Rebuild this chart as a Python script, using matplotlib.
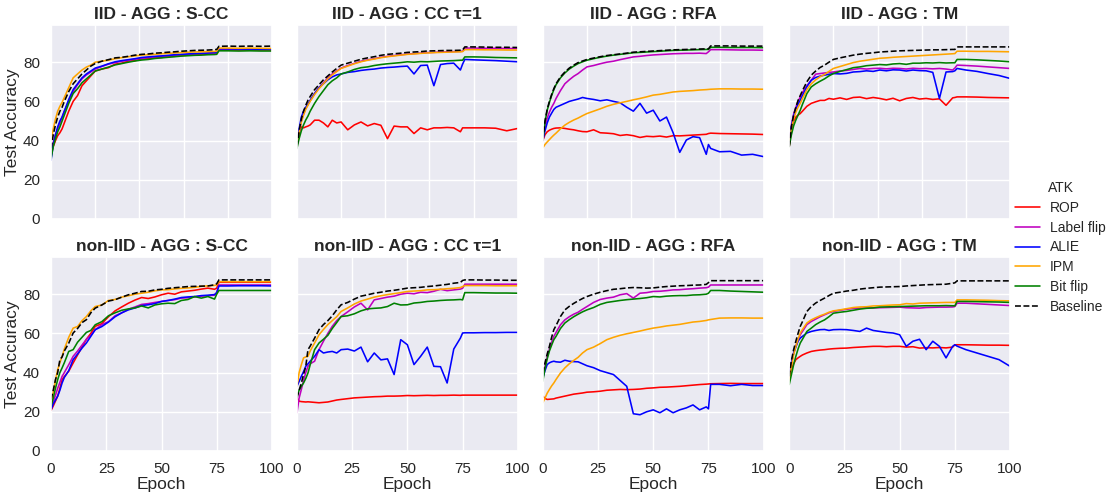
import matplotlib
matplotlib.use("Agg")
import matplotlib.pyplot as plt
import seaborn as sns

epochs = [0, 1, 2, 3, 4, 5, 6,
          8, 10, 12, 14, 16, 18, 20,
          23, 26, 29, 32, 35, 38, 41,
          44, 47, 50, 53, 56, 59, 62,
          65, 68, 71, 74, 75, 76,
          80, 85, 90, 95, 100]

attacks = ["ROP", "Label flip", "ALIE", "IPM", "Bit flip", "Baseline"]
colors = {"ROP": "red", "Label flip": (0.75, 0, 0.75), "ALIE": "blue", "IPM": "orange",
          "Bit flip": "green", "Baseline": "black"}

iid_scc = {
    "ROP": [33, 37, 40, 42.5, 44, 46, 49,
            55, 60, 63, 68, 70.5, 73, 75.5,
            76.5, 77.2, 79, 79.5, 80.6, 80.8, 81.6,
            81.8, 82.3, 82.4, 82.9, 83, 83.4, 83.6,
            83.7, 84, 84.1, 84.3, 84.5, 86.3,
            86.3, 86.2, 86.3, 86.2, 86.2],
    "Label flip": [32, 39, 43, 46, 49, 52, 55,
                   60, 65, 68.5, 71.5, 73.5, 75, 76.5,
                   77.8, 79, 79.8, 80.5, 81, 81.5, 82,
                   82.3, 82.7, 83, 83.2, 83.5, 83.8, 84,
                   84.2, 84.3, 84.5, 84.6, 84.8, 86.5,
                   86.5, 86.4, 86.5, 86.4, 86.4],
    "ALIE": [30, 38, 43, 47, 50, 52, 55,
             61, 66, 69, 72, 74, 75.5, 77,
             78, 79.2, 80.2, 80.8, 81.3, 81.8, 82.4,
             82.7, 83, 83.2, 83.5, 83.8, 84, 84.2,
             84.4, 84.5, 84.7, 84.9, 85, 86.8,
             86.8, 86.7, 86.7, 86.6, 86.6],
    "IPM": [40, 46, 51, 55, 57.5, 59.5, 62,
            67, 72, 74, 76, 77.5, 78.5, 80,
            80.5, 81, 81.8, 82.3, 82.8, 83.2, 83.6,
            83.8, 84, 84.3, 84.5, 84.7, 84.9, 85.1,
            85.2, 85.3, 85.4, 85.5, 85.6, 87.2,
            87.2, 87.1, 87.2, 87.1, 87],
    "Bit flip": [31, 37, 41, 44.5, 47, 50, 53,
                 59, 64, 66.5, 69.5, 71.5, 73.5, 75.5,
                 76.5, 77.5, 78.6, 79.3, 80, 80.6, 81.1,
                 81.4, 81.9, 82.2, 82.5, 82.8, 83.1, 83.3,
                 83.5, 83.6, 83.8, 83.9, 84, 85.8,
                 85.8, 85.7, 85.8, 85.7, 85.7],
    "Baseline": [36, 43, 48, 52, 55, 57, 60,
                 65, 69, 71.5, 74, 76, 78, 79.3,
                 80.5, 81.3, 82.2, 82.5, 83, 83.6, 84,
                 84.2, 84.6, 84.8, 85.1, 85.3, 85.6, 85.8,
                 86, 86.1, 86.2, 86.4, 86.5, 88.1,
                 88.2, 88.1, 88.2, 88.1, 88.2],
}

iid_cc = {
    "ROP": [38, 44, 47, 46.5, 47, 47.4, 48,
            50.4, 50.4, 49, 47, 50.4, 49, 49.5,
            45.5, 48, 49.5, 47.5, 48.7, 47.8, 41,
            47.4, 47, 47, 43.6, 46.5, 45.5, 46.5,
            46.5, 46.7, 46.5, 44.5, 46.5, 46.5,
            46.5, 46.5, 46.3, 45, 46.2],
    "Label flip": [37, 44, 50, 53.5, 56.5, 58.5, 60.5,
                   64, 67, 69.5, 72, 74, 75.5, 77,
                   78.3, 79.4, 80.5, 81.2, 81.8, 82.5, 83,
                   83.4, 83.8, 84.1, 84.4, 84.6, 84.9, 85,
                   85.2, 85.3, 85.4, 85.5, 85.6, 87.2,
                   87.2, 87.1, 87.1, 87, 87],
    "ALIE": [38, 46, 52, 55, 57, 58.5, 60.5,
             64, 67, 69, 71, 72.5, 73.5, 74,
             74.8, 75.2, 75.8, 76.2, 76.5, 77, 77.3,
             77.5, 77.8, 78, 74, 78.3, 78.5, 68,
             78.8, 79.3, 79.5, 76, 79, 81.4,
             81.2, 81, 80.8, 80.5, 80.2],
    "IPM": [38, 44, 49.5, 53, 56, 58, 60,
            63.5, 66.5, 69, 71.5, 73.5, 75.2, 76.8,
            78, 79.2, 80.2, 81, 81.6, 82.3, 82.8,
            83.2, 83.6, 84, 84.2, 84.5, 84.7, 84.9,
            85, 85.1, 85.2, 85.3, 85.4, 86.4,
            86.4, 86.3, 86.3, 86.2, 86.2],
    "Bit flip": [36, 41, 45, 48, 50.5, 52.5, 55,
                 59, 62.5, 65.5, 68.5, 70.5, 72, 74,
                 75, 76.3, 77.2, 77.6, 78.3, 78.8, 79.2,
                 79.5, 79.8, 80.2, 80, 80.3, 80.2, 80.4,
                 80.6, 80.7, 80.8, 81, 81, 82.7,
                 82.7, 82.6, 82.4, 82.3, 82.2],
    "Baseline": [37, 45, 51, 55, 58, 60.6, 62.5,
                 66, 68.5, 71, 73, 75, 76.8, 78.5,
                 79.5, 80.5, 81.5, 82.2, 82.8, 83.5, 84,
                 84.3, 84.6, 85, 85.2, 85.4, 85.7, 85.8,
                 85.9, 86, 86, 86.1, 86.2, 87.8,
                 87.8, 87.7, 87.6, 87.6, 87.5],
}

iid_rfa = {
    "ROP": [40, 43, 44.5, 45.3, 45.8, 46.2, 46.4,
            46.5, 46.2, 45.8, 45.5, 45, 44.6, 44.5,
            45.5, 44, 43.8, 43.5, 42.6, 43, 42.5,
            41.6, 42.2, 42, 42.3, 41.8, 42.5, 42.4,
            42.6, 42.8, 43, 43.2, 43.6, 43.8,
            43.6, 43.5, 43.4, 43.3, 43.1],
    "Label flip": [40, 47, 51.5, 54.5, 57, 59, 61.5,
                   65.5, 69, 71, 72.8, 74.2, 76, 77.6,
                   78.3, 79.2, 80, 80.5, 81.3, 82, 82.7,
                   83, 83.4, 83.7, 83.9, 84.1, 84.3, 84.4,
                   84.5, 84.5, 84.6, 84.4, 85.3, 86.4,
                   86.4, 86.3, 86.2, 86.2, 86.1],
    "ALIE": [40, 45, 49, 52, 54, 55.9, 57,
             58, 59, 60, 60.6, 61.2, 62, 61.5,
             61, 60.3, 60.8, 60, 59.3, 57, 55,
             59, 54, 55.5, 50, 52, 44, 34,
             40.3, 42, 41.5, 33, 38, 36,
             34.3, 34.5, 32.6, 33, 31.8],
    "IPM": [36.3, 38, 39.3, 40.5, 41.7, 42.8, 43.8,
            46, 47.9, 49.3, 50.5, 51.5, 52.7, 53.8,
            55, 56.2, 57.5, 58.5, 59.3, 60, 60.8,
            61.5, 62.3, 63.2, 63.6, 64.2, 64.8, 65.1,
            65.3, 65.5, 65.8, 66, 66.1, 66.2,
            66.4, 66.4, 66.3, 66.3, 66.2],
    "Bit flip": [40, 49.5, 55.5, 59.5, 63, 66, 68.5,
                 72, 74.5, 76.5, 78, 79.3, 80.2, 81,
                 81.8, 82.5, 83.1, 83.6, 84, 84.4, 84.8,
                 85, 85.2, 85.4, 85.6, 85.8, 86, 86.1,
                 86.2, 86.3, 86.4, 86.5, 86.5, 87.6,
                 87.6, 87.5, 87.5, 87.5, 87.4],
    "Baseline": [40, 50, 56, 60, 63.5, 66.5, 69,
                 72.5, 75, 77, 78.5, 79.8, 80.6, 81.4,
                 82.1, 82.8, 83.4, 83.8, 84.2, 84.6, 85.1,
                 85.3, 85.5, 85.7, 85.9, 86.1, 86.3, 86.4,
                 86.5, 86.6, 86.7, 86.8, 86.8, 88.3,
                 88.3, 88.3, 88.2, 88.2, 88.2],
}

iid_tm = {
    "ROP": [37, 46, 50, 52, 53, 53.8, 55,
            57.5, 59, 59.8, 60.5, 60.5, 61.5, 61.1,
            61.8, 61, 62, 62.2, 61.4, 62, 61.5,
            60.8, 61.6, 60.3, 61.5, 62, 61.2, 61.5,
            61, 61.3, 58, 61.8, 62, 62.3,
            62.3, 62.2, 62, 61.9, 61.8],
    "Label flip": [38, 48, 53.5, 57, 60, 62.3, 64.5,
                   68, 70.8, 73.9, 74.2, 74.5, 74.8, 75,
                   75.5, 75.8, 76.3, 76.8, 76.5, 76.8, 76.9,
                   76.6, 76.9, 76.8, 76.5, 76.9, 76.7, 76.8,
                   76.6, 76.8, 76.5, 76, 77, 78.5,
                   78.3, 78, 77.6, 77.2, 76.8],
    "ALIE": [38, 47, 52.5, 56, 58.5, 60.6, 63,
             67.5, 70.8, 72.2, 72.9, 73.4, 73.8, 74.2,
             74, 74.3, 75, 75.2, 75.6, 75.3, 76,
             75.6, 76.1, 76, 75.5, 76, 75.7, 75.6,
             74.8, 61.5, 75, 75.2, 75.6, 76.8,
             76, 75.3, 74.2, 73.2, 71.7],
    "IPM": [38, 46, 51, 54.5, 57, 59, 61.5,
            66, 69, 71, 72.6, 73.7, 75.3, 76.8,
            77.8, 78.8, 79.8, 80.5, 81, 81.5, 82,
            82.2, 82.5, 82.7, 82.9, 83.1, 83.3, 83.5,
            83.7, 83.9, 84.1, 84.3, 84.4, 85.6,
            85.6, 85.5, 85.5, 85.4, 85.3],
    "Bit flip": [37, 43, 47.5, 50.5, 53, 55.5, 58.5,
                 64, 67.4, 69, 70.3, 71.5, 73, 74.2,
                 75.3, 76.2, 77.2, 77.6, 78.2, 78.5, 78.8,
                 78.6, 79.1, 79.3, 78.9, 79.5, 79.5, 79.7,
                 79.6, 79.8, 79.6, 79.7, 79.7, 81.4,
                 81.4, 81.2, 80.9, 80.6, 80.2],
    "Baseline": [37, 47, 53, 57, 60.5, 63, 65.5,
                 70, 73.4, 75.5, 77.3, 78.5, 80, 81.4,
                 82.2, 82.9, 83.6, 84.1, 84.5, 84.8, 85.2,
                 85.4, 85.6, 85.8, 85.9, 86, 86.1, 86.2,
                 86.3, 86.3, 86.4, 86.5, 86.5, 87.8,
                 87.8, 87.8, 87.8, 87.8, 87.8],
}

noniid_scc = {
    "ROP": [20.7, 23, 25.5, 28, 32, 36.4, 38,
            40.7, 44.9, 49, 53, 57, 60, 63.6,
            65, 68.5, 71.5, 73.5, 75.4, 77, 78.3,
            77.8, 78.6, 79.7, 80.5, 80, 81.2, 81.6,
            82, 82.6, 83.1, 82.5, 83.1, 86.1,
            86.1, 86.1, 86.1, 86.1, 86.1],
    "Label flip": [21.2, 25, 28.5, 32, 35, 38.1, 40,
                   44, 48.3, 51, 54, 57, 59, 61.9,
                   64.5, 66, 69, 70.5, 72.3, 73.5, 74.8,
                   75.2, 75.8, 76.3, 76.8, 77.2, 78, 78.2,
                   78.6, 79, 79.2, 79.5, 80.8, 84.7,
                   84.7, 84.7, 84.7, 84.7, 84.7],
    "ALIE": [21.2, 24, 26, 28, 31, 34.7, 37.5,
             41, 46.6, 49.5, 52.5, 55.1, 58.5, 61.9,
             63.5, 65.8, 68.5, 70.5, 72, 73, 74.2,
             74.6, 75.2, 76.3, 76.8, 77.5, 78.3, 78.6,
             78.8, 79.3, 79.5, 79.8, 80.8, 84.2,
             84.2, 84.3, 84.3, 84.3, 84.2],
    "IPM": [24, 30, 36, 41.5, 45, 48.3, 52,
            58, 62.7, 63.5, 66.5, 68.6, 71.5, 73.7,
            74.5, 76.8, 77.3, 78.5, 79.2, 80, 80.5,
            81, 81.7, 82.2, 82.3, 82.7, 83, 83.2,
            83.5, 84, 84.2, 84.5, 84.7, 86.4,
            86.4, 86.4, 86.4, 86.4, 86.4],
    "Bit flip": [22.9, 27, 32, 36.4, 40, 42.4, 45,
                 50.8, 51.7, 55.5, 58, 60.5, 61.5, 64.4,
                 66, 69, 70.5, 71.8, 72.5, 73, 74,
                 73, 74.5, 75.1, 75.4, 75.2, 76.8, 77.3,
                 78.8, 78, 78.8, 77.5, 80, 81.9,
                 81.9, 81.9, 81.9, 81.9, 81.9],
    "Baseline": [26.3, 31, 36.4, 40, 46.6, 48, 51,
                 55, 60.2, 62.5, 65.5, 67, 70.5, 72.9,
                 74.5, 76.5, 77.2, 78.5, 79.7, 80.5, 81.4,
                 81.5, 82.2, 82.5, 83, 83.3, 83.6, 83.9,
                 84, 84.1, 84.2, 84.8, 85.3, 87.3,
                 87.3, 87.3, 87.3, 87.3, 87.3],
}

noniid_cc = {
    "ROP": [27, 25.4, 25.2, 25.1, 25, 25.1, 25,
            24.8, 24.6, 24.8, 25, 25.5, 26, 26.3,
            26.7, 27.1, 27.3, 27.5, 27.7, 27.8, 28,
            28, 28.1, 28.3, 28.2, 28.3, 28.4, 28.3,
            28.4, 28.4, 28.5, 28.4, 28.5, 28.5,
            28.5, 28.5, 28.5, 28.5, 28.5],
    "Label flip": [19.5, 27, 31.4, 36, 40, 43.2, 44.5,
                   45.8, 51.7, 56, 60, 63.6, 66.5, 68.6,
                   71, 73.5, 75.4, 72, 77.1, 77.8, 78.5,
                   79, 80, 80.5, 80.2, 81, 80.8, 81.5,
                   82.5, 81.8, 82.2, 82.6, 83, 85.1,
                   85.1, 85.1, 85.1, 85.1, 85.1],
    "ALIE": [33, 35.5, 38.1, 40.5, 43.2, 44.5, 45.8,
             48.3, 51.7, 50, 50.5, 50.8, 50, 51.7,
             52, 51, 53, 45.5, 50, 46.5, 47,
             39, 56.8, 54.2, 44.1, 48.3, 53, 43.2,
             43, 34.7, 52, 57.6, 60.2, 60.3,
             60.3, 60.4, 60.4, 60.5, 60.5],
    "IPM": [33, 40, 44, 47.5, 48, 48.3, 51,
            55.1, 59.3, 62, 64.5, 66.5, 68.5, 71.2,
            73, 75, 76.5, 77.5, 78.5, 79.2, 79.8,
            80.3, 80.8, 81.4, 81.6, 81.8, 82.2, 82.3,
            82.5, 82.8, 83, 83.4, 83.9, 84.4,
            84.4, 84.4, 84.3, 84.3, 84.3],
    "Bit flip": [28, 31, 33, 34.7, 37, 39.8, 44,
                 51.7, 55.1, 57, 59, 62.5, 65.5, 68.6,
                 69, 70, 71.5, 72.5, 72.8, 73, 73.7,
                 75.4, 74.5, 74.6, 75.5, 75.8, 76.3, 76.5,
                 76.8, 77, 77.1, 77.3, 77.1, 80.8,
                 80.8, 80.7, 80.6, 80.6, 80.5],
    "Baseline": [27, 31, 34.7, 39, 43.2, 51.7, 53.5,
                 57.6, 61.9, 64.5, 66.5, 69, 72, 74.6,
                 75.8, 77.5, 79, 79.7, 80.5, 81, 81.6,
                 82, 82.5, 83.1, 83.3, 83.5, 83.9, 84.2,
                 84.6, 85, 85.6, 86, 87, 87.3,
                 87.3, 87.2, 87.2, 87.1, 87.1],
}

noniid_rfa = {
    "ROP": [28, 26.8, 26.3, 26.4, 26.5, 26.6, 27,
            27.5, 28, 28.5, 29, 29.3, 29.6, 30,
            30.2, 30.5, 31, 31.2, 31.4, 31.3, 31.4,
            31.6, 32, 32.2, 32.5, 32.6, 32.8, 33,
            33.3, 33.6, 33.9, 34.1, 34.2, 34.3,
            34.4, 34.5, 34.4, 34.4, 34.4],
    "Label flip": [37.3, 43, 48, 52, 55.5, 58.5, 60.5,
                   64.4, 66.9, 68.5, 69.8, 70.8, 72.3, 73.7,
                   75.8, 77.3, 78, 78.5, 79.7, 80.3, 78,
                   80.5, 80.8, 81.4, 81.5, 81.8, 82.2, 82.3,
                   82.6, 82.8, 83.1, 83.3, 83.6, 84.7,
                   84.7, 84.7, 84.7, 84.7, 84.7],
    "ALIE": [37.3, 41, 44.1, 45, 45.5, 45.8, 45.5,
             45.3, 46.3, 45.8, 45.6, 45.5, 44.5, 43.5,
             42.5, 41, 40, 39, 36, 33, 19,
             18.5, 20, 21, 19.5, 21.5, 19.5, 21,
             22, 23.5, 21, 22.5, 21.5, 34,
             34, 33.3, 34, 33.4, 33.4],
    "IPM": [24.6, 27, 29.5, 31.4, 33.2, 34.7, 36.5,
            39.8, 42.4, 44.5, 46.2, 47.8, 50, 51.7,
            53, 54.8, 56.8, 58, 59, 59.8, 60.5,
            61.2, 62, 62.7, 63.2, 63.8, 64.2, 64.6,
            65.2, 65.8, 66.1, 66.6, 66.9, 67.1,
            67.8, 67.9, 67.9, 67.8, 67.8],
    "Bit flip": [35.6, 42, 47, 51, 54, 56.8, 58.5,
                 62.5, 65.3, 67, 68.5, 69.8, 71, 72,
                 73.2, 74.8, 75.8, 76.3, 76.8, 77.2, 77.5,
                 77.8, 78.2, 78.8, 78.6, 79, 79.2, 79.3,
                 79.3, 79.6, 79.7, 80, 80.5, 81.9,
                 81.9, 81.6, 81.4, 81.2, 81],
    "Baseline": [39.8, 45, 49.5, 53.4, 58, 61.9, 64,
                 68.6, 72, 73.8, 75.3, 76.6, 77.8, 78.8,
                 80, 81, 81.8, 82.5, 82.8, 83.2, 83.4,
                 83.3, 83.1, 83.2, 83.6, 83.9, 84.1, 84.3,
                 84.4, 84.6, 84.7, 85, 85.9, 86.9,
                 86.9, 86.9, 86.9, 86.9, 86.9],
}

noniid_tm = {
    "ROP": [38, 42, 44.5, 46.6, 47.5, 48.3, 49,
            50, 50.8, 51.2, 51.5, 51.7, 52, 52.2,
            52.4, 52.5, 52.8, 53, 53.2, 53.4, 53.4,
            53.2, 53.4, 53.4, 53, 53.2, 52.5, 52.7,
            52.6, 52.8, 52.6, 53, 54.2, 54.2,
            54.2, 54.1, 54, 54, 53.9],
    "Label flip": [38, 45, 50, 53.5, 56.5, 59.3, 61,
                   64.5, 66.1, 67.3, 68.5, 69.5, 70.5, 71.2,
                   71.8, 72.3, 72.7, 72.9, 73, 73, 73.1,
                   73.2, 73.3, 73.4, 73.1, 73, 72.9, 73.2,
                   73.3, 73.4, 73.4, 73.5, 73.7, 75.4,
                   75.4, 75.1, 74.8, 74.5, 74.2],
    "ALIE": [38, 45, 50, 53, 56, 57.6, 58.5,
             60.2, 61, 61.5, 61.9, 62, 61.5, 61.9,
             62, 61.9, 61.5, 61, 62.7, 61.5, 61,
             60.5, 60.2, 59.3, 53.4, 56, 57, 51.7,
             56, 53.4, 47.5, 53.4, 54.2, 53.5,
             51.7, 50, 48.3, 46.6, 43.2],
    "IPM": [35.6, 43, 49, 53.4, 57, 60.2, 62,
            65.3, 66.9, 68, 69, 69.8, 70.8, 71.5,
            72, 72.6, 73.2, 73.5, 73.6, 74, 74.1,
            74.3, 74.5, 74.6, 75.2, 75, 75.4, 75.5,
            75.6, 75.7, 75.8, 75.8, 75.8, 77.1,
            77.1, 77, 76.9, 76.7, 76.6],
    "Bit flip": [33.9, 39, 44, 48.3, 52, 55.1, 57,
                 61, 62.7, 64.5, 65.8, 66.9, 68.5, 70.3,
                 70.8, 71.2, 71.8, 72.4, 72.8, 73, 73.4,
                 73.5, 73.6, 73.7, 73.8, 73.9, 74, 74.1,
                 74.1, 74.1, 74.2, 74.1, 74.1, 76.3,
                 76.3, 76.2, 76.1, 76, 75.8],
    "Baseline": [38.1, 46, 51.7, 56, 60, 63.6, 66,
                 71.2, 73.7, 75.5, 76.8, 78, 79.3, 80.5,
                 81, 81.6, 82, 82.6, 83, 83.3, 83.6,
                 83.7, 83.8, 83.9, 84.2, 84.4, 84.6, 84.8,
                 84.9, 85, 85.1, 85.6, 85.8, 86.8,
                 86.8, 86.8, 86.8, 86.8, 86.8],
}

titles = ["IID - AGG : S-CC", "IID - AGG : CC \u03c4=1", "IID - AGG : RFA", "IID - AGG : TM",
          "non-IID - AGG : S-CC", "non-IID - AGG : CC \u03c4=1", "non-IID - AGG : RFA",
          "non-IID - AGG : TM"]
panels = [iid_scc, iid_cc, iid_rfa, iid_tm, noniid_scc, noniid_cc, noniid_rfa, noniid_tm]

sns.set_theme(style="darkgrid")
plt.rcParams['font.family'] = ['Liberation Sans', 'DejaVu Sans']

fig = plt.figure(figsize=(11.1, 4.95), dpi=100)
lefts = [0.046, 0.2675, 0.489, 0.711]
bottoms = [0.5576, 0.0889]
w, h = 0.199, 0.392

handles = []
for i, (title, data) in enumerate(zip(titles, panels)):
    row, col = divmod(i, 4)
    ax = fig.add_axes([lefts[col], bottoms[row], w, h])
    for atk in attacks:
        ls = "--" if atk == "Baseline" else "-"
        ln, = ax.plot(epochs, data[atk], color=colors[atk], ls=ls, lw=1.15, label=atk)
        if i == 0:
            handles.append(ln)
    ax.set_xlim(0, 100)
    ax.set_ylim(0, 99)
    ax.set_yticks([0, 20, 40, 60, 80])
    ax.set_title(title, fontsize=12.5, fontweight="bold", pad=4)
    if row == 0:
        ax.set_xticks([0, 20, 40, 60, 80, 100])
        ax.set_xticklabels([])
    else:
        ax.set_xticks([0, 25, 50, 75, 100])
        ax.set_xlabel("Epoch", fontsize=12.5, labelpad=1)
    if col == 0:
        ax.set_ylabel("Test Accuracy", fontsize=12.5, labelpad=2)
    else:
        ax.set_yticklabels([])
    ax.tick_params(labelsize=11, pad=2)

fig.legend(handles=handles, labels=attacks, title="ATK", loc="center left",
           bbox_to_anchor=(0.906, 0.5), frameon=False, fontsize=10, title_fontsize=10,
           handlelength=1.8, handletextpad=0.7, labelspacing=0.42, borderpad=0.2)

fig.savefig("out.png", dpi=100)
